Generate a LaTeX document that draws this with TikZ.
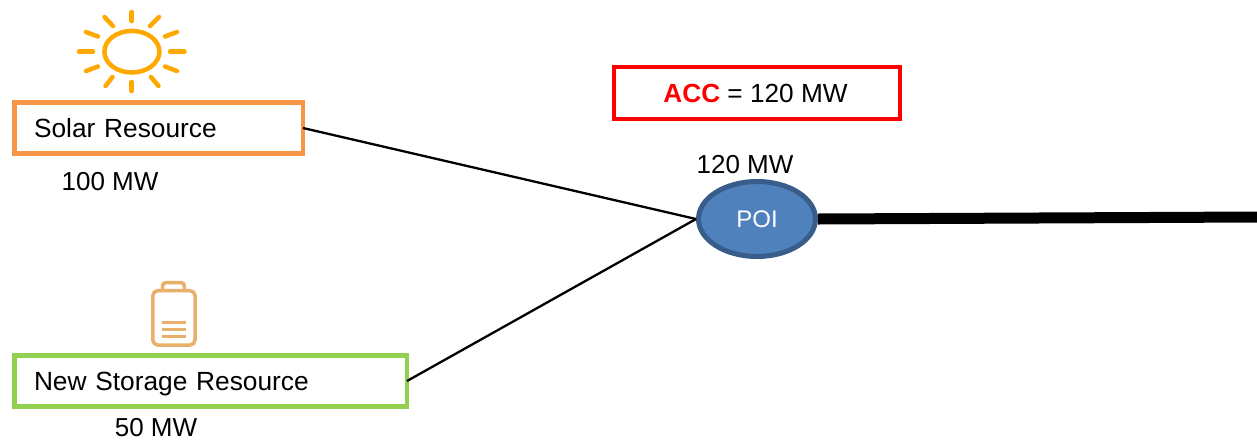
\documentclass[tikz,border=0pt]{standalone}
\usepackage{fontspec}
\usetikzlibrary{shapes.geometric}
\setmainfont{Liberation Sans}
\definecolor{solarbox}{HTML}{F79646}
\definecolor{storebox}{HTML}{92D050}
\definecolor{sunc}{HTML}{FFA900}
\definecolor{batc}{HTML}{E8B06A}
\definecolor{poifill}{HTML}{4F81BD}
\definecolor{poiedge}{HTML}{385D8A}
\tikzset{
  resbox/.style={draw,line width=4.5pt,outer sep=0pt,fill=white,minimum height=51pt,inner ysep=0pt,inner xsep=0pt,anchor=west,align=left,text height=22pt,text depth=3pt,font=\fontsize{26.3}{30}\selectfont},
  lbl/.style={inner sep=0pt,font=\fontsize{26}{30}\selectfont,text=black},
  link/.style={draw=black,line width=2.3pt},
  ray/.style={draw=sunc,line width=4.5pt,line cap=round},
  bat/.style={draw=batc,line width=3.5pt,line cap=round}
}
\begin{document}
\begin{tikzpicture}[x=1pt,y=-1pt]
\useasboundingbox (0,0) rectangle (1257,440);
\node[draw=poiedge,fill=poifill,line width=5pt,ellipse,minimum width=117pt,minimum height=75pt,inner sep=0pt,text=white,font=\fontsize{24}{28}\selectfont] (poi) at (757,219) {POI};
\node[resbox,draw=solarbox,text width=288.5pt] (solar) at (14.5,128) {\hspace*{19.5pt}Solar Resource};
\node[resbox,draw=storebox,text width=392.5pt] (store) at (14.5,381) {\hspace*{19.5pt}New Storage Resource};
\node[draw=red,line width=4.5pt,minimum width=286pt,minimum height=52pt,inner sep=0pt,font=\fontsize{26.2}{30}\selectfont] (acc) at (757,93) {\hspace*{-3pt}\textcolor{red}{\textbf{ACC}} = 120 MW};
\node[lbl] (l100) at (110,182) {100 MW};
\node[lbl] (l50) at (156,428) {50 MW};
\node[lbl] (l120) at (745,165) {120 MW};
\coordinate (grid) at (1257,217);
\draw[link] (solar.east) -- (poi.west);
\draw[link] (store.east) -- (poi.west);
\draw[draw=black,line width=11pt] (poi.east) -- (grid);
% sun
\draw[draw=sunc,line width=4.5pt] (131.9,51.7) ellipse [x radius=27.5,y radius=20.8];
\foreach \a/\b/\c/\d in {131.7/12/131.7/21, 131.7/82/131.7/91, 104.5/17/113/26, 159/17/150/26, 86/32/98/36.5, 177/32/165/36.5, 79/51.7/93/51.7, 184.5/51.7/170/51.7, 86/71/98/66.5, 177/71/165/66.5, 105.5/86/112.5/77, 158.5/86/151/77}
  \draw[ray] (\a,\b) -- (\c,\d);
% battery
\draw[bat,rounded corners=5pt] (152.8,290.7) rectangle (195,345);
\draw[bat,rounded corners=3pt] (162.7,290.7) -- (162.7,282.7) -- (184.3,282.7) -- (184.3,290.7);
\foreach \y in {322.5,329,336}
  \draw[draw=batc,line width=3pt] (161.7,\y) -- (185.7,\y);
\end{tikzpicture}
\end{document}
